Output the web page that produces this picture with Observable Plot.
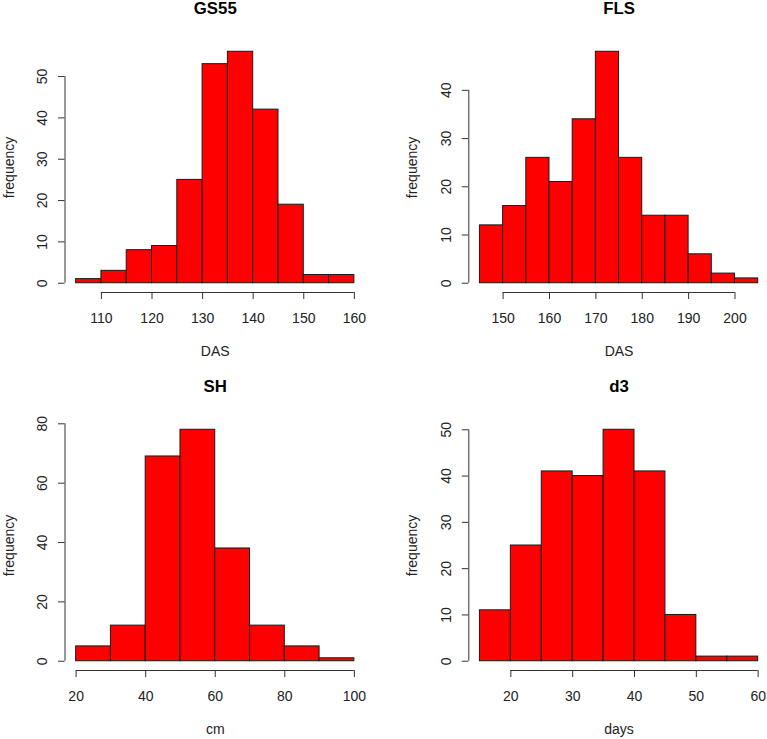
<!DOCTYPE html>
<html>
<head>
<meta charset="utf-8">
<script src="https://cdn.jsdelivr.net/npm/d3@7"></script>
<script src="https://cdn.jsdelivr.net/npm/@observablehq/plot@0.6"></script>
<style>
  html, body { margin: 0; padding: 0; background: #fff; }
  #chart { position: relative; width: 767px; height: 739px; overflow: hidden; background: #fff; }
  #chart svg { position: absolute; background: transparent; }
</style>
</head>
<body>
<div id="chart"></div>
<script>
// ---- Data (bin edges and counts) ----
const gs55Edges  = [105, 110, 115, 120, 125, 130, 135, 140, 145, 150, 155, 160];
const gs55Counts = [1, 3, 8, 9, 25, 53, 56, 42, 19, 2, 2];
const gs55XTicks = [110, 120, 130, 140, 150, 160];
const gs55YTicks = [0, 10, 20, 30, 40, 50];

const flsEdges  = [145, 150, 155, 160, 165, 170, 175, 180, 185, 190, 195, 200, 205];
const flsCounts = [12, 16, 26, 21, 34, 48, 26, 14, 14, 6, 2, 1];
const flsXTicks = [150, 160, 170, 180, 190, 200];
const flsYTicks = [0, 10, 20, 30, 40];

const shEdges  = [20, 30, 40, 50, 60, 70, 80, 90, 100];
const shCounts = [5, 12, 69, 78, 38, 12, 5, 1];
const shXTicks = [20, 40, 60, 80, 100];
const shYTicks = [0, 20, 40, 60, 80];

const d3Edges  = [15, 20, 25, 30, 35, 40, 45, 50, 55, 60];
const d3Counts = [11, 25, 41, 40, 50, 41, 10, 1, 1];
const d3XTicks = [20, 30, 40, 50, 60];
const d3YTicks = [0, 10, 20, 30, 40, 50];

const titles  = ["GS55", "FLS", "SH", "d3"];
const xLabels = ["DAS", "DAS", "cm", "days"];
const yLabel  = "frequency";

const panels = [
  {title: titles[0], xLabel: xLabels[0], edges: gs55Edges, counts: gs55Counts, xTicks: gs55XTicks, yTicks: gs55YTicks, left: 0,   top: 0,   marginLeft: 64.5},
  {title: titles[1], xLabel: xLabels[1], edges: flsEdges,  counts: flsCounts,  xTicks: flsXTicks,  yTicks: flsYTicks,  left: 383, top: 0,   marginLeft: 85.3},
  {title: titles[2], xLabel: xLabels[2], edges: shEdges,   counts: shCounts,   xTicks: shXTicks,   yTicks: shYTicks,   left: 0,   top: 378, marginLeft: 64.5},
  {title: titles[3], xLabel: xLabels[3], edges: d3Edges,   counts: d3Counts,   xTicks: d3XTicks,   yTicks: d3YTicks,   left: 383, top: 378, marginLeft: 85.3}
];

const FONT = "Liberation Sans, Arial, Helvetica, sans-serif";
const INK = "#222";
const AXIS = "#333";
const FRAME_W = 300.5, FRAME_H = 250;
const MT = 42, MB = 78;
const SVG_W = 392, SVG_H = 370;

const container = document.getElementById("chart");

for (const p of panels) {
  const bins = p.counts.map((c, i) => ({x1: p.edges[i], x2: p.edges[i + 1], count: c}));
  const lo = p.edges[0], hi = p.edges[p.edges.length - 1];
  const pad = 0.04 * (hi - lo);
  const ymax = d3.max(p.counts);
  const ypad = 0.04 * ymax;
  const xDomain = [lo - pad, hi + pad];
  const yDomain = [-ypad, ymax + ypad];

  const chart = Plot.plot({
    width: SVG_W,
    height: SVG_H,
    marginLeft: p.marginLeft,
    marginRight: SVG_W - p.marginLeft - FRAME_W,
    marginTop: MT,
    marginBottom: MB,
    style: {fontFamily: FONT, fontSize: "14px", color: INK, background: "transparent", overflow: "visible"},
    x: {domain: xDomain, axis: null},
    y: {domain: yDomain, axis: null},
    marks: [
      // bars
      Plot.rectY(bins, {x1: "x1", x2: "x2", y1: 0, y2: "count", fill: "#ff0000", stroke: "#1a1a1a", strokeWidth: 1}),
      // x axis (R style: line spans first to last tick, ticks point outward)
      Plot.axisX({anchor: "bottom", ticks: p.xTicks, tickSize: 7, tickFormat: () => "", label: null, stroke: AXIS, strokeWidth: 1}),
      Plot.ruleY([yDomain[0]], {x1: p.xTicks[0], x2: p.xTicks[p.xTicks.length - 1], stroke: AXIS, strokeWidth: 1}),
      Plot.text(p.xTicks, {x: d => d, frameAnchor: "bottom", dy: 26, text: d => String(d), fill: INK, fontSize: 14, lineAnchor: "middle"}),
      // y axis
      Plot.axisY({anchor: "left", ticks: p.yTicks, tickSize: 6.5, tickFormat: () => "", label: null, stroke: AXIS, strokeWidth: 1}),
      Plot.ruleX([xDomain[0]], {y1: p.yTicks[0], y2: p.yTicks[p.yTicks.length - 1], stroke: AXIS, strokeWidth: 1}),
      Plot.text(p.yTicks, {y: d => d, frameAnchor: "left", dx: -22.6, rotate: -90, text: d => String(d), fill: INK, fontSize: 14, textAnchor: "middle", lineAnchor: "middle"}),
      // title and axis titles
      Plot.text([p.title], {frameAnchor: "top", dy: -33.5, text: d => d, fontWeight: "bold", fontSize: 16.8, fill: "#000", lineAnchor: "middle"}),
      Plot.text([p.xLabel], {frameAnchor: "bottom", dy: 59, text: d => d, fontSize: 14, fill: INK, lineAnchor: "middle"}),
      Plot.text([yLabel], {frameAnchor: "left", dx: -55.8, rotate: -90, text: d => d, fontSize: 14, fill: INK, textAnchor: "middle", lineAnchor: "middle"})
    ]
  });

  chart.style.left = p.left + "px";
  chart.style.top = p.top + "px";
  container.appendChild(chart);
}
</script>
</body>
</html>
